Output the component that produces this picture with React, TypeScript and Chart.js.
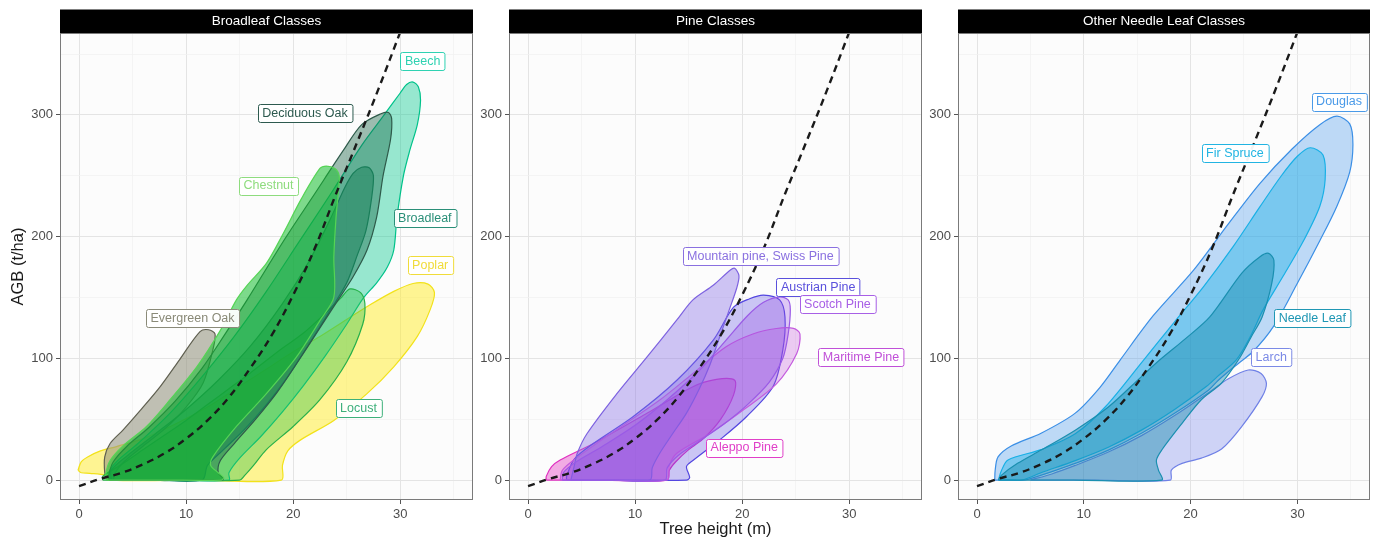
import React, { useEffect, useRef } from "react";
import { Chart, registerables } from "chart.js";

Chart.register(...registerables);

const FONT = "'Liberation Sans', Arial, Helvetica, sans-serif";

type P = [number, number];

// ---------- dashed reference curve (tree height m, AGB t/ha) ----------
const curveHeight = [0, 2, 4, 6, 8, 10, 12, 14, 16, 18, 20, 22, 24, 26, 28, 30, 32];
const curveAGB = [-5, 1, 6, 13, 22, 34, 49, 68, 92, 119, 152, 190, 235, 278, 322, 368, 415];

// ---------- Broadleaf classes (contours: [height, AGB]) ----------
const beech: P[] = [
  [3, 0], [8, 0], [14, 0], [14, 6], [15, 18], [17, 36], [19, 56], [21, 78], [23, 102], [25, 128],
  [26.6, 150], [27.8, 162], [28.8, 175], [29.4, 189], [29.7, 216], [30.3, 250], [30.9, 271],
  [31.6, 292], [31.9, 312], [31.7, 323], [31.2, 327], [30.6, 325], [30, 318], [28.5, 300],
  [26.4, 275], [23.5, 235], [20.5, 195], [17.5, 155], [14.5, 118], [11.5, 85], [8.5, 55],
  [5.5, 30], [3.5, 15], [2.8, 6],
];
const broadleaf: P[] = [
  [3, 0], [7, 0], [11.5, 0], [12, 12], [13.5, 25], [15.5, 42], [17.5, 62], [19.5, 85], [21.5, 112],
  [23.5, 140], [25, 162], [26, 185], [26.8, 205], [27.3, 230], [27.5, 250], [27.1, 256.5],
  [26.4, 257], [25.6, 252], [24.8, 240], [23.5, 215], [21.5, 180], [19, 145], [16, 110], [13, 82],
  [10, 58], [7, 37], [4.5, 20], [3, 8],
];
const chestnut: P[] = [
  [2.6, 0], [8, 0], [13.3, 0], [13.5, 2], [13, 6], [12.3, 12], [12.5, 19], [14.7, 44], [17.5, 71],
  [20.3, 101], [22.5, 131], [23.8, 150], [23.8, 183], [24, 215], [24.2, 235], [24.3, 250],
  [23.9, 256], [23.1, 258], [22.5, 256], [20.7, 230], [19.1, 203], [17.5, 178], [15.7, 160],
  [14.7, 148], [13.2, 123], [11, 93], [8.5, 66], [6.3, 44], [4.1, 28], [2.9, 16], [2.5, 5],
];
const deciduousOak: P[] = [
  [2.8, 0], [8, 0], [13.3, 0], [13.5, 1], [13, 6], [13.2, 16], [14.5, 30], [16.5, 50], [18.5, 72],
  [20.5, 98], [22.5, 125], [24.2, 148], [25.6, 167], [26.9, 189], [27.8, 216], [28.4, 250],
  [29.1, 280], [29.2, 297], [28.9, 302], [28.2, 301], [26.4, 292], [24.7, 271], [22, 235],
  [19, 195], [15.7, 148], [13.5, 118], [11.5, 92], [9, 65], [6.5, 43], [4.5, 28], [3.2, 15], [2.8, 5],
];
const evergreenOak: P[] = [
  [2.6, 0], [3.2, 0], [3.3, 5], [4.2, 15], [6, 28], [8, 42], [10, 60], [11.6, 80], [12.5, 107],
  [12.7, 120], [12.1, 123.5], [11.3, 122], [9.4, 99], [7.6, 77], [5.7, 57], [4.1, 41], [2.9, 30],
  [2.4, 19], [2.4, 6],
];
const locust: P[] = [
  [2.2, 0], [8, 0], [15, 0], [15.5, 4], [16.3, 12], [17.5, 25], [20, 44], [22.5, 66], [25, 97],
  [26.5, 128], [26.7, 145], [26.3, 154], [25.3, 157], [24.5, 150], [23, 137], [21, 121],
  [18.8, 107], [16, 88], [14, 75], [12, 62], [10, 49], [8, 37], [6, 25], [4, 13], [2.2, 3],
];
const poplar: P[] = [
  [-0.1, 8], [0.2, 15], [0.8, 19], [2, 24], [3.5, 27.5], [6, 34], [9, 46], [12, 60], [15, 77],
  [18, 94], [20.5, 108], [22.5, 118], [25, 132], [27, 143], [29.4, 155], [31.2, 161.5],
  [32.6, 161], [33.2, 154], [32.8, 140], [31.6, 118], [29.4, 93], [26.9, 71], [23.8, 49],
  [20.7, 33], [19.5, 24], [19, 12], [18.9, 0], [11, 0], [3, 0], [2.4, 4], [1, 5.5], [0.2, 6],
];

const broadleafNames = ["Beech", "Broadleaf", "Chestnut", "Deciduous Oak", "Evergreen Oak", "Locust", "Poplar"];
const broadleafLabelX = [32.1, 32.3, 17.7, 21.1, 10.6, 26.1, 32.8];
const broadleafLabelY = [344, 215, 242, 301.6, 133, 59, 176.7];

// ---------- Pine classes ----------
const aleppoPine: P[] = [
  [1.7, 0], [7, 0], [13, 0], [13.2, 8], [13.8, 15], [15, 25], [16.5, 35], [18, 50], [19.2, 70],
  [19.3, 82], [17.6, 82.7], [15.4, 76.7], [11.1, 54.8], [6.1, 30], [3, 16.4], [2.2, 11], [1.7, 3],
];
const austrianPine: P[] = [
  [3.6, 0], [9, 0], [14.8, 0], [15.1, 2], [14.8, 11], [15.4, 16], [17.9, 33], [20.4, 52],
  [22.9, 77], [23.8, 107], [24, 134], [23.5, 148], [22, 152], [20.7, 149], [19.2, 142],
  [17.3, 115], [13.9, 82], [9.8, 52], [6.1, 30], [4.3, 17], [3.6, 3],
];
const maritimePine: P[] = [
  [3, 0], [8, 0], [13, 0], [13.2, 12], [13.9, 22], [17, 38.3], [20.1, 57.5], [23.2, 79],
  [25.1, 104], [25.4, 120], [24.8, 124.6], [23.2, 124.5], [21, 120], [18.5, 109.5], [15.4, 87.6],
  [12.3, 65.7], [7.7, 38], [4.5, 18], [3.2, 8],
];
const mountainPine: P[] = [
  [4, 0], [8, 0], [11.4, 0], [11.6, 10], [12.3, 22], [13.5, 38], [14.8, 55], [16, 75], [17, 95],
  [17.8, 115], [18.8, 140], [19.5, 158], [19.7, 168], [19.3, 174], [18.9, 172.6], [17.3, 160],
  [15.4, 148], [13.9, 131.5], [11.1, 101], [8.3, 71], [5.5, 38], [4.6, 22], [4.3, 11],
];
const scotchPine: P[] = [
  [3.2, 0], [8, 0], [12.8, 0], [13, 10], [14, 20], [16, 32], [18.3, 46], [20.5, 62], [22.5, 80],
  [23.8, 100], [24.3, 120], [24.5, 140], [24.3, 148], [23.5, 150.5], [22, 146], [20.5, 135],
  [18.5, 115], [16, 90], [13, 66], [10, 45], [7, 28], [4.5, 15], [3.3, 6],
];

const pineNames = ["Aleppo Pine", "Austrian Pine", "Maritime Pine", "Mountain pine, Swiss Pine", "Scotch Pine"];
const pineLabelX = [20.2, 27.1, 31.1, 21.7, 28.9];
const pineLabelY = [26.7, 158.8, 101, 183.8, 144.9];

// ---------- Other needle leaf classes ----------
const douglas: P[] = [
  [1.66, 0], [3, 0], [4.5, 0], [9.2, 13.7], [12.3, 24.6], [15.4, 38.4], [18.5, 54.8], [21.7, 74],
  [22.6, 82], [24.5, 96], [25.9, 106], [27.75, 126], [29.9, 160], [32.1, 196.6], [33.7, 225],
  [34.9, 253], [35.2, 275.7], [34.9, 292.6], [33.7, 299], [32.1, 292], [29.5, 272], [26.5, 243.8],
  [23.5, 210], [20.3, 172.6], [16.5, 135], [13.4, 98.6], [11.5, 76], [9.2, 55], [6, 38.5],
  [3.2, 28], [1.97, 19], [1.7, 8],
];
const firSpruce: P[] = [
  [2, 0], [3, 0], [4.2, 0], [6, 6], [9.2, 16], [12.3, 27], [15.4, 41], [18.5, 58], [21.5, 77],
  [22.5, 85], [24.3, 99], [25.6, 118], [26.8, 140], [28.7, 168], [30.6, 197], [32.1, 225],
  [32.6, 247], [32.4, 267], [31.2, 273], [30, 266], [28.5, 250], [26.5, 224.6], [24, 192],
  [21.2, 158.8], [18.5, 130], [15.6, 98.6], [12, 60], [9.2, 38], [6, 25], [2.9, 16.5], [2.3, 8],
];
const larch: P[] = [
  [5, 0], [11, 0], [18.1, 0], [18.2, 8.2], [19.2, 13.7], [21, 18], [22.9, 25.5], [24.8, 44.1],
  [26.7, 68.5], [27.1, 79.4], [26.6, 87.6], [25.4, 90.4], [23.5, 83], [21.7, 72], [18.5, 53],
  [15.4, 36.5], [12.3, 23], [9.2, 12], [7, 5],
];
const needleLeaf: P[] = [
  [2, 0], [9, 0], [17.3, 0], [17, 8], [16.8, 16.4], [17.3, 24.7], [19.2, 46.6], [21, 66],
  [22.9, 79.7], [24.5, 99], [25.7, 118], [26.7, 134], [27.6, 161.5], [27.8, 180.6], [27.3, 186.3],
  [26.5, 183.5], [24.8, 170], [21.8, 134], [19.5, 116], [17.1, 98.6], [15.4, 85], [12.3, 60],
  [9.2, 41], [6, 24.6], [3.8, 13.7], [2.3, 4],
];

const needleNames = ["Douglas", "Fir Spruce", "Larch", "Needle Leaf"];
const needleLabelX = [33.9, 24.15, 27.55, 31.4];
const needleLabelY = [311, 269, 101.4, 133];

// ---------- styles (shapes listed bottom layer first) ----------
const broadleafLayers = [poplar, evergreenOak, beech, locust, broadleaf, deciduousOak, chestnut];
const broadleafFill = [
  "rgba(255,236,40,0.5)", "rgba(150,150,130,0.6)", "rgba(0,200,140,0.4)", "rgba(50,195,70,0.4)",
  "rgba(10,140,90,0.45)", "rgba(25,100,70,0.42)", "rgba(20,190,45,0.55)",
];
const broadleafLine = ["#f2e21a", "#5f5f50", "#00c28a", "#27b04a", "#1a9068", "#2e5a4a", "#55d455"];
const broadleafText = ["#2fd2b2", "#2a8f78", "#8edc7e", "#2d5a4f", "#8a8a78", "#3db07a", "#f0dc3a"];

const pineLayers = [aleppoPine, austrianPine, maritimePine, mountainPine, scotchPine];
const pineFill = [
  "rgba(225,40,190,0.38)", "rgba(85,70,225,0.3)", "rgba(195,85,220,0.3)", "rgba(135,110,230,0.4)",
  "rgba(150,75,230,0.3)",
];
const pineLine = ["#e02fc0", "#5346e0", "#c45ade", "#7d62e0", "#9a5ae6"];
const pineText = ["#e040c8", "#5a50dc", "#c050d8", "#8a70e0", "#a860e6"];

const needleLayers = [douglas, firSpruce, larch, needleLeaf];
const needleFill = [
  "rgba(60,145,235,0.33)", "rgba(20,175,230,0.4)", "rgba(120,135,235,0.35)", "rgba(25,140,175,0.45)",
];
const needleLine = ["#3b8fe6", "#18b0e6", "#6f80e6", "#1a8fb0"];
const needleText = ["#4a9ae8", "#22b4e2", "#7b8ae6", "#1f97b4"];

type PanelProps = {
  left: number;
  width: number;
  axisWidth: number;
  rightPad: number;
  title: string;
  shapes: P[][];
  fills: string[];
  lines: string[];
  names: string[];
  labelX: number[];
  labelY: number[];
  texts: string[];
  yTitle?: boolean;
  xTitle?: boolean;
};

function Panel(props: PanelProps) {
  const ref = useRef<HTMLCanvasElement>(null);
  useEffect(() => {
    const canvas = ref.current!;
    const datasets: any[] = [];
    datasets.push({
      data: curveHeight.map((x, i) => ({ x, y: curveAGB[i] })),
      showLine: true,
      borderColor: "#1a1a1a",
      borderWidth: 2.4,
      borderDash: [7, 5],
      pointRadius: 0,
      tension: 0.4,
      fill: false,
    });
    // dataset 0 is drawn on top, so add shapes from top layer to bottom layer
    for (let i = props.shapes.length - 1; i >= 0; i--) {
      const pts = props.shapes[i].map(([x, y]) => ({ x, y }));
      pts.push({ ...pts[0] });
      datasets.push({
        data: pts,
        showLine: true,
        fill: "shape",
        backgroundColor: props.fills[i],
        borderColor: props.lines[i],
        borderWidth: 1.2,
        pointRadius: 0,
        tension: 0.3,
      });
    }

    const deco = {
      id: "panelDeco",
      beforeDraw(chart: any) {
        const { ctx, chartArea: a } = chart;
        ctx.save();
        ctx.fillStyle = "#fcfcfc";
        ctx.fillRect(a.left, a.top, a.right - a.left, a.bottom - a.top);
        ctx.restore();
      },
      afterDatasetsDraw(chart: any) {
        const { ctx } = chart;
        const xs = chart.scales.x;
        const ys = chart.scales.y;
        ctx.save();
        ctx.font = `12.5px ${FONT}`;
        ctx.textAlign = "center";
        ctx.textBaseline = "middle";
        props.names.forEach((name, i) => {
          const cx = xs.getPixelForValue(props.labelX[i]);
          const cy = ys.getPixelForValue(props.labelY[i]);
          const tw = ctx.measureText(name).width;
          const w = tw + 9;
          const h = 18;
          const x0 = Math.round(cx - w / 2) + 0.5;
          const y0 = Math.round(cy - h / 2) + 0.5;
          const r = 2;
          ctx.beginPath();
          ctx.moveTo(x0 + r, y0);
          ctx.lineTo(x0 + w - r, y0);
          ctx.arcTo(x0 + w, y0, x0 + w, y0 + r, r);
          ctx.lineTo(x0 + w, y0 + h - r);
          ctx.arcTo(x0 + w, y0 + h, x0 + w - r, y0 + h, r);
          ctx.lineTo(x0 + r, y0 + h);
          ctx.arcTo(x0, y0 + h, x0, y0 + h - r, r);
          ctx.lineTo(x0, y0 + r);
          ctx.arcTo(x0, y0, x0 + r, y0, r);
          ctx.closePath();
          ctx.fillStyle = "rgba(255,255,255,0.95)";
          ctx.fill();
          ctx.strokeStyle = props.texts[i];
          ctx.lineWidth = 1;
          ctx.stroke();
          ctx.fillStyle = props.texts[i];
          ctx.fillText(name, cx, cy + 0.5);
        });
        ctx.restore();
      },
      afterDraw(chart: any) {
        const { ctx, chartArea: a } = chart;
        ctx.save();
        ctx.strokeStyle = "#7a7a7a";
        ctx.lineWidth = 1;
        ctx.strokeRect(a.left + 0.5, a.top + 0.5, a.right - a.left - 1, a.bottom - a.top - 1);
        ctx.fillStyle = "#000000";
        ctx.fillRect(a.left, a.top - 23.5, a.right - a.left, 23.5);
        ctx.fillStyle = "#ffffff";
        ctx.font = `13.5px ${FONT}`;
        ctx.textAlign = "center";
        ctx.textBaseline = "middle";
        ctx.fillText(props.title, (a.left + a.right) / 2, a.top - 11.5);
        ctx.restore();
      },
    };

    const gridX = (c: any) => (c.tick && c.tick.value % 10 === 0 ? "#e4e4e4" : "#f1f1f1");
    const gridY = (c: any) => (c.tick && c.tick.value % 100 === 0 ? "#e4e4e4" : "#f1f1f1");
    const tickX = (c: any) => (c.tick && c.tick.value % 10 === 0 ? "#555555" : "rgba(0,0,0,0)");
    const tickY = (c: any) => (c.tick && c.tick.value % 100 === 0 ? "#555555" : "rgba(0,0,0,0)");

    const chart = new Chart(canvas, {
      type: "scatter",
      data: { datasets },
      plugins: [deco],
      options: {
        responsive: false,
        animation: false,
        devicePixelRatio: 1,
        layout: { padding: { top: 33, right: props.rightPad, left: 0, bottom: 0 } },
        plugins: { legend: { display: false }, tooltip: { enabled: false } },
        scales: {
          x: {
            type: "linear",
            min: -1.78,
            max: 36.8,
            afterFit: (s: any) => {
              s.height = 39;
            },
            border: { display: false },
            grid: {
              color: gridX,
              lineWidth: (c: any) => (c.tick && c.tick.value % 10 === 0 ? 1 : 0.7),
              tickLength: 4,
              tickColor: tickX,
              tickWidth: 1,
            },
            ticks: {
              stepSize: 5,
              includeBounds: false,
              autoSkip: false,
              maxRotation: 0,
              padding: 3,
              color: "#4d4d4d",
              font: { family: FONT, size: 13 },
              callback: (v: any) => (Number(v) % 10 === 0 ? String(v) : ""),
            },
            title: {
              display: !!props.xTitle,
              text: "Tree height (m)",
              color: "#1a1a1a",
              font: { family: FONT, size: 16.5 },
              padding: { top: 0, bottom: 0 },
            },
          },
          y: {
            type: "linear",
            min: -16.4,
            max: 367.3,
            afterFit: (s: any) => {
              s.width = props.axisWidth;
            },
            border: { display: false },
            grid: {
              color: gridY,
              lineWidth: (c: any) => (c.tick && c.tick.value % 100 === 0 ? 1 : 0.7),
              tickLength: 4,
              tickColor: tickY,
              tickWidth: 1,
            },
            ticks: {
              stepSize: 50,
              includeBounds: false,
              autoSkip: false,
              padding: 3,
              color: "#4d4d4d",
              font: { family: FONT, size: 13 },
              callback: (v: any) => (Number(v) % 100 === 0 ? String(v) : ""),
            },
            title: {
              display: !!props.yTitle,
              text: "AGB (t/ha)",
              color: "#1a1a1a",
              font: { family: FONT, size: 16.5 },
              padding: { top: 9, bottom: 0 },
            },
          },
        },
      } as any,
    });
    return () => chart.destroy();
  }, []);
  return (
    <canvas
      ref={ref}
      width={props.width}
      height={539}
      style={{ position: "absolute", left: props.left, top: 0, width: props.width, height: 539 }}
    />
  );
}

export default function App() {
  return (
    <div
      style={{
        position: "absolute",
        left: 0,
        top: 0,
        width: 1375,
        height: 539,
        background: "#ffffff",
        overflow: "hidden",
      }}
    >
      <Panel
        left={0}
        width={478}
        axisWidth={60}
        rightPad={5}
        title="Broadleaf Classes"
        shapes={broadleafLayers}
        fills={broadleafFill}
        lines={broadleafLine}
        names={broadleafNames}
        labelX={broadleafLabelX}
        labelY={broadleafLabelY}
        texts={broadleafText}
        yTitle
      />
      <Panel
        left={478}
        width={448}
        axisWidth={31}
        rightPad={4}
        title="Pine Classes"
        shapes={pineLayers}
        fills={pineFill}
        lines={pineLine}
        names={pineNames}
        labelX={pineLabelX}
        labelY={pineLabelY}
        texts={pineText}
        xTitle
      />
      <Panel
        left={926}
        width={449}
        axisWidth={32}
        rightPad={5}
        title="Other Needle Leaf Classes"
        shapes={needleLayers}
        fills={needleFill}
        lines={needleLine}
        names={needleNames}
        labelX={needleLabelX}
        labelY={needleLabelY}
        texts={needleText}
      />
    </div>
  );
}
